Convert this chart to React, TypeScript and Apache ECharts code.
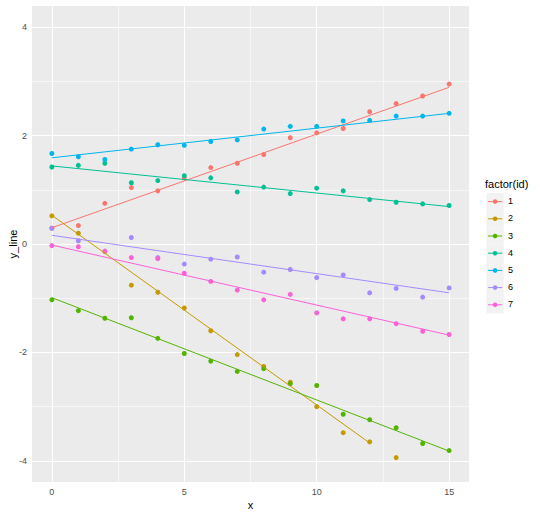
import React, { useEffect, useRef } from "react";
import * as echarts from "echarts";

const xValues = [0, 1, 2, 3, 4, 5, 6, 7, 8, 9, 10, 11, 12, 13, 14, 15];
const ids = ["1", "2", "3", "4", "5", "6", "7"];
const colors = ["#F8766D", "#C49A00", "#53B400", "#00C094", "#00B6EB", "#A58AFF", "#FB61D7"];

const s1 = [0.29, 0.34, 0.75, 1.04, 0.98, 1.22, 1.41, 1.49, 1.65, 1.96, 2.05, 2.13, 2.44, 2.59, 2.73, 2.95];
const s2 = [0.52, 0.2, -0.14, -0.76, -0.89, -1.18, -1.6, -2.04, -2.26, -2.55, -3.0, -3.48, -3.65, -3.94, null, null];
const s3 = [-1.03, -1.23, -1.37, -1.36, -1.74, -2.02, -2.16, -2.35, -2.3, -2.58, -2.61, -3.14, -3.24, -3.39, -3.68, -3.81];
const s4 = [1.42, 1.45, 1.49, 1.13, 1.17, 1.26, 1.22, 0.96, 1.05, 0.93, 1.03, 0.98, 0.82, 0.77, 0.74, 0.71];
const s5 = [1.67, 1.61, 1.56, 1.75, 1.83, 1.82, 1.89, 1.92, 2.12, 2.17, 2.17, 2.27, 2.28, 2.36, 2.36, 2.41];
const s6 = [0.29, 0.06, null, 0.12, -0.25, -0.37, -0.28, -0.24, -0.52, -0.47, -0.62, -0.57, -0.9, -0.82, -0.98, -0.81];
const s7 = [-0.03, -0.05, -0.13, -0.25, -0.27, -0.54, -0.69, -0.85, -1.03, -0.93, -1.27, -1.38, -1.38, -1.47, -1.61, -1.67];
const pointSeries = [s1, s2, s3, s4, s5, s6, s7];

// fitted lines (y_line): start and end
const fitX0 = [0, 0, 0, 0, 0, 0, 0];
const fitX1 = [15, 12, 15, 15, 15, 15, 15];
const fitY0 = [0.3, 0.53, -0.99, 1.44, 1.59, 0.16, -0.02];
const fitY1 = [2.89, -3.67, -3.82, 0.69, 2.41, -0.9, -1.68];

const xTicks = [0, 5, 10, 15];
const xMinor = [2.5, 7.5, 12.5];
const yTicks = [-4, -2, 0, 2, 4];
const yMinor = [-3, -1, 1, 3];

const FONT = "'Liberation Sans', Arial, sans-serif";

export default function App() {
  const ref = useRef<HTMLDivElement>(null);
  useEffect(() => {
    if (!ref.current) return;
    const chart = echarts.init(ref.current, undefined, { renderer: "svg" });

    const gridLines: any[] = [];
    xMinor.forEach((v) => gridLines.push({ xAxis: v, lineStyle: { color: "#FFFFFF", width: 0.55, type: "solid" } }));
    yMinor.forEach((v) => gridLines.push({ yAxis: v, lineStyle: { color: "#FFFFFF", width: 0.55, type: "solid" } }));
    xTicks.forEach((v) => gridLines.push({ xAxis: v, lineStyle: { color: "#FFFFFF", width: 1.1, type: "solid" } }));
    yTicks.forEach((v) => gridLines.push({ yAxis: v, lineStyle: { color: "#FFFFFF", width: 1.1, type: "solid" } }));

    const series: any[] = [
      {
        type: "scatter",
        name: "grid",
        data: [],
        z: 1,
        silent: true,
        markLine: {
          silent: true,
          z: 1,
          symbol: ["none", "none"],
          label: { show: false },
          animation: false,
          data: gridLines,
        },
      },
    ];

    ids.forEach((id, i) => {
      series.push({
        type: "scatter",
        name: id,
        z: 3,
        symbolSize: 5,
        itemStyle: { color: colors[i], opacity: 1 },
        data: pointSeries[i]
          .map((v, k) => (v === null ? null : [xValues[k], v]))
          .filter((d) => d !== null),
      });
    });
    ids.forEach((id, i) => {
      series.push({
        type: "line",
        name: id + "_fit",
        z: 4,
        symbol: "none",
        lineStyle: { color: colors[i], width: 1 },
        data: [
          [fitX0[i], fitY0[i]],
          [fitX1[i], fitY1[i]],
        ],
      });
    });

    const legendGraphic: any[] = [
      {
        type: "text",
        left: 485,
        top: 178,
        style: { text: "factor(id)", fontSize: 11, fontFamily: FONT, fill: "#000000" },
      },
    ];
    ids.forEach((id, i) => {
      const top = 193 + 17.2 * i;
      const cy = top + 8.6;
      legendGraphic.push({
        type: "rect",
        shape: { x: 486.5, y: top, width: 17.2, height: 17.2 },
        style: { fill: "#F2F2F2" },
      });
      legendGraphic.push({
        type: "line",
        shape: { x1: 488, y1: cy, x2: 502.3, y2: cy },
        style: { stroke: colors[i], lineWidth: 1 },
      });
      legendGraphic.push({
        type: "circle",
        shape: { cx: 495.1, cy, r: 2.3 },
        style: { fill: colors[i] },
      });
      legendGraphic.push({
        type: "text",
        left: 508,
        top: cy - 5,
        style: { text: id, fontSize: 9, fontFamily: FONT, fill: "#000000" },
      });
    });

    chart.setOption({
      animation: false,
      backgroundColor: "#FFFFFF",
      grid: {
        left: 32,
        top: 6,
        width: 437,
        height: 476,
        show: true,
        containLabel: false,
        outerBoundsMode: "none",
        backgroundColor: "#EBEBEB",
        borderWidth: 0,
      },
      xAxis: {
        type: "value",
        min: -0.75,
        max: 15.75,
        name: "x",
        nameLocation: "middle",
        nameGap: 17,
        nameMoveOverlap: false,
        nameTextStyle: { fontSize: 11, color: "#000000", fontFamily: FONT },
        axisLine: { show: false },
        axisTick: { show: true, length: 3, customValues: xTicks, lineStyle: { color: "#333333", width: 1 } },
        axisLabel: { customValues: xTicks, fontSize: 9, color: "#4D4D4D", margin: 5, fontFamily: FONT },
        splitLine: { show: false },
      },
      yAxis: {
        type: "value",
        min: -4.39,
        max: 4.39,
        name: "y_line",
        nameLocation: "middle",
        nameGap: 14,
        nameRotate: 90,
        nameMoveOverlap: false,
        nameTextStyle: { fontSize: 11, color: "#000000", fontFamily: FONT },
        axisLine: { show: false },
        axisTick: { show: true, length: 3, customValues: yTicks, lineStyle: { color: "#333333", width: 1 } },
        axisLabel: { customValues: yTicks, fontSize: 9, color: "#4D4D4D", margin: 5, fontFamily: FONT },
        splitLine: { show: false },
      },
      series,
      graphic: legendGraphic,
    });
    return () => chart.dispose();
  }, []);
  return <div ref={ref} style={{ position: "absolute", left: 0, top: 0, width: 540, height: 516 }} />;
}
